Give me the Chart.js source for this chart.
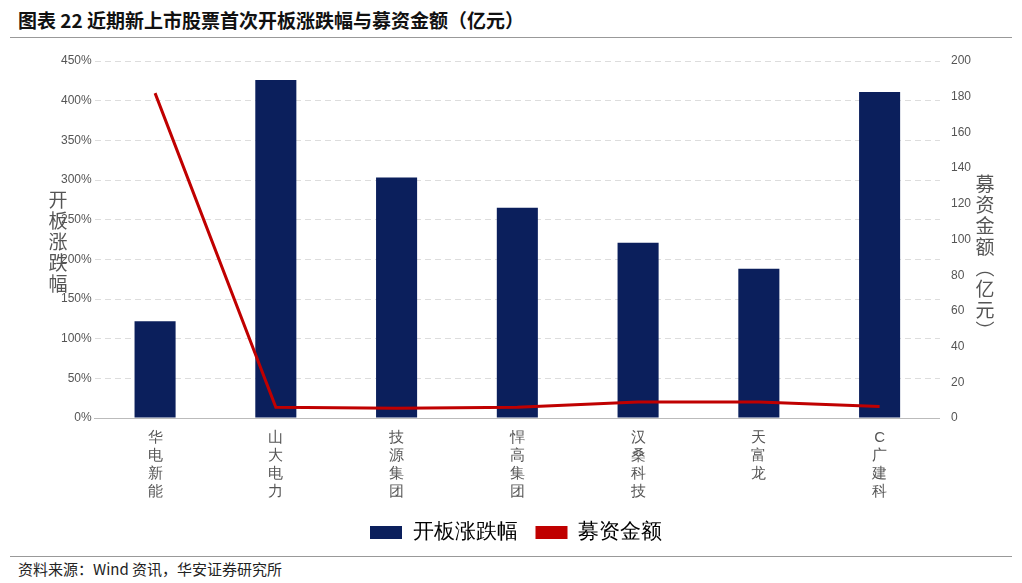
<!DOCTYPE html>
<html><head><meta charset="utf-8">
<script src="https://cdn.jsdelivr.net/npm/chart.js@4"></script>
<style>
body{margin:0;width:1022px;height:583px;background:#fff;font-family:"Noto Sans CJK SC","Noto Sans",sans-serif;position:relative;overflow:hidden}
#t{position:absolute;left:18px;top:6px;font-size:19px;font-weight:bold;color:#111}
#l1{position:absolute;left:10px;right:10px;top:37px;border-top:1px solid #999}
#l2{position:absolute;left:10px;right:10px;top:556px;border-top:1px solid #999}
#s{position:absolute;left:18px;top:558px;font-size:15px;color:#222}
#c{position:absolute;left:0;top:45px;width:1022px;height:508px}
.vt{position:absolute;font-size:19px;line-height:21px;color:#555;width:22px;text-align:center}
</style></head><body>
<div id="t">图表 22 近期新上市股票首次开板涨跌幅与募资金额（亿元）</div>
<div id="l1"></div>
<div id="c"><canvas id="cv"></canvas></div>
<div class="vt" style="left:47px;top:188px">开<br>板<br>涨<br>跌<br>幅</div>
<div class="vt" style="left:974px;top:172px">募<br>资<br>金<br>额<br>︵<br>亿<br>元<br>︶</div>
<div id="l2"></div>
<div id="s">资料来源：Wind 资讯，华安证券研究所</div>
<script>
const categories=["华电新能","山大电力","技源集团","悍高集团","汉桑科技","天富龙","C广建科"];
const changePct=[122,426,303,265,221,188,411];
const raised=[182,6,5.5,6,9,9,6.5];
const labels=categories.map(c=>c.split(''));
new Chart(document.getElementById('cv'),{
data:{labels:labels,datasets:[
{type:'bar',label:'开板涨跌幅',data:changePct,backgroundColor:'#0b1f5c',yAxisID:'y',barPercentage:0.34,categoryPercentage:1,order:2},
{type:'line',label:'募资金额',data:raised,borderColor:'#c00000',borderWidth:3,pointRadius:0,yAxisID:'y1',tension:0,order:1}
]},
options:{responsive:true,maintainAspectRatio:false,animation:false,
layout:{padding:{left:58,right:48,top:16}},
plugins:{legend:{position:'bottom',labels:{font:{size:21},color:'#333',boxWidth:32,boxHeight:13,padding:18,
generateLabels:c=>c.data.datasets.map((d,i)=>({text:d.label,fillStyle:i?'#c00000':'#0b1f5c',strokeStyle:i?'#c00000':'#0b1f5c',lineWidth:0,datasetIndex:i}))}},tooltip:{enabled:false}},
scales:{
x:{grid:{display:false},border:{color:'#bbb'},ticks:{color:'#555',font:{size:15},maxRotation:0}},
y:{min:0,max:450,ticks:{stepSize:50,color:'#555',font:{size:12},callback:v=>v+'%'},grid:{color:'#ddd',drawTicks:false},border:{display:false,dash:[6,4]}},
y1:{position:'right',min:0,max:200,ticks:{stepSize:20,color:'#555',font:{size:12}},grid:{display:false},border:{display:false}}
}}
});
</script></body></html>
